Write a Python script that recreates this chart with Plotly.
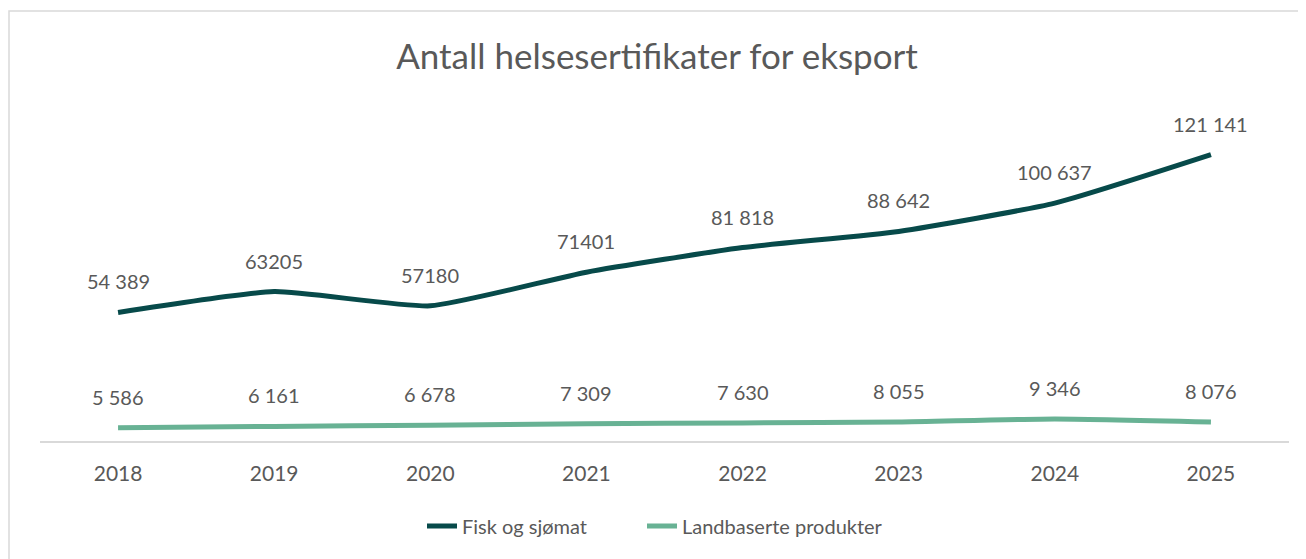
import plotly.graph_objects as go

years = ["2018", "2019", "2020", "2021", "2022", "2023", "2024", "2025"]
fisk = [54389, 63205, 57180, 71401, 81818, 88642, 100637, 121141]
fisk_labels = ["54 389", "63205", "57180", "71401", "81 818", "88 642", "100 637", "121 141"]
land = [5586, 6161, 6678, 7309, 7630, 8055, 9346, 8076]
land_labels = ["5 586", "6 161", "6 678", "7 309", "7 630", "8 055", "9 346", "8 076"]

DARK = "#074a4a"
LIGHT = "#68b294"
TEXT = "#595959"
FONT = "Lato"

# page has an 8px body margin; figure coordinates = page coordinates - 8
OFF = 8
W, H = 1306 - OFF, 559 - OFF
L, T = 40 - OFF, 110 - OFF
R = W - (1289 - OFF)
B = H - (441 - OFF)
pw = W - L - R
ph = H - T - B

fig = go.Figure()
fig.add_trace(go.Scatter(x=years, y=fisk, name="Fisk og sjømat", mode="lines", legend="legend",
                         line=dict(color=DARK, width=5, shape="spline", smoothing=0.5)))
fig.add_trace(go.Scatter(x=years, y=land, name="Landbaserte produkter", mode="lines", legend="legend2",
                         line=dict(color=LIGHT, width=5, shape="spline", smoothing=0.5)))

annotations = []
for ys, labs in [(fisk, fisk_labels), (land, land_labels)]:
    for i, (y, t) in enumerate(zip(ys, labs)):
        annotations.append(dict(x=i, y=y, xref="x", yref="y", text=t, showarrow=False, yshift=31,
                                font=dict(family=FONT, size=20, color=TEXT)))

fig.add_shape(type="rect", xref="paper", yref="paper",
              x0=(9 - OFF - L) / pw, x1=(W + 60 - L) / pw,
              y0=-(H + 60 - T - ph) / ph, y1=(H - (11 - OFF) - B) / ph,
              line=dict(color="#d9d9d9", width=1.5), fillcolor="rgba(0,0,0,0)", layer="below")

legend_common = dict(orientation="h", xanchor="left", y=-85 / ph, yanchor="middle",
                     bgcolor="rgba(0,0,0,0)",
                     font=dict(family=FONT, size=20, color=TEXT))

fig.update_layout(
    width=W, height=H,
    margin=dict(l=L, r=R, t=T, b=B),
    paper_bgcolor="white", plot_bgcolor="white",
    title=dict(text="Antall helsesertifikater for eksport", x=0.5, xanchor="center",
               y=1 - (57 - OFF) / H, yanchor="middle",
               font=dict(family=FONT, size=35, color=TEXT)),
    xaxis=dict(type="category", categoryorder="array", categoryarray=years,
               range=[-0.5, len(years) - 0.5], autorange=False,
               showgrid=False, zeroline=False, showline=True,
               linecolor="#d9d9d9", linewidth=1.5, ticks="", ticklabelstandoff=13,
               tickfont=dict(family=FONT, size=21, color=TEXT)),
    yaxis=dict(range=[0, 140000], autorange=False, visible=False, showgrid=False, zeroline=False),
    legend=dict(x=382 / pw, **legend_common),
    legend2=dict(x=602 / pw, **legend_common),
    annotations=annotations,
    showlegend=True,
)

fig.write_html("out.html")
